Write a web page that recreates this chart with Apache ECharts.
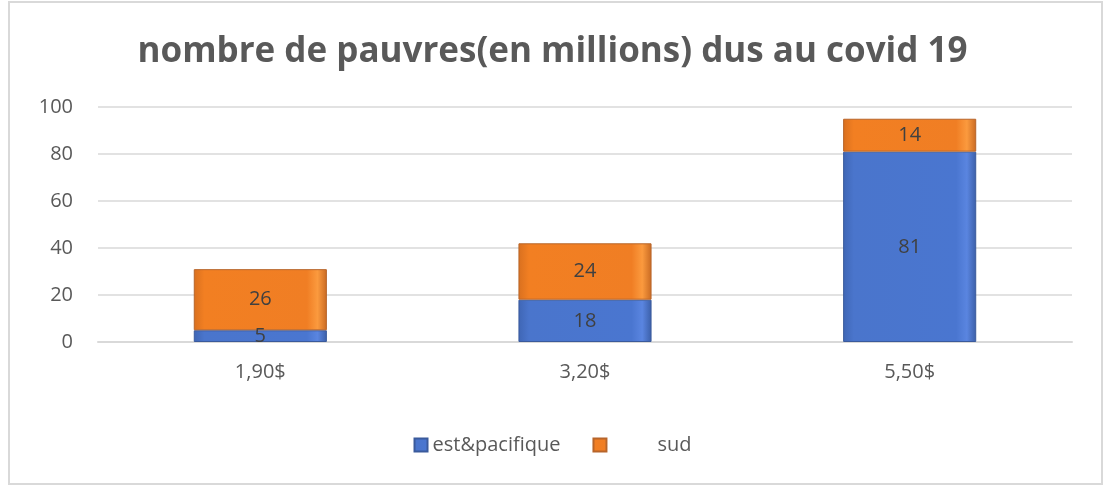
<!DOCTYPE html>
<html>
<head>
<meta charset="utf-8">
<script src="https://cdn.jsdelivr.net/npm/echarts@6/dist/echarts.min.js"></script>
<style>
  html, body { margin: 0; padding: 0; background: #fff; }
  #main { width: 1105px; height: 486px; }
</style>
</head>
<body>
<div id="main"></div>
<script>
var categories = ['1,90$', '3,20$', '5,50$'];
var estPacifique = [5, 18, 81];
var sud = [26, 24, 14];
var yTicks = { min: 0, max: 100, interval: 20 };

(function () {
  var myChart = echarts.init(document.getElementById('main'));

  var blue = new echarts.graphic.LinearGradient(0, 0, 1, 0, [
    { offset: 0, color: '#3f66b5' },
    { offset: 0.08, color: '#4a75cc' },
    { offset: 0.85, color: '#4a76d0' },
    { offset: 0.93, color: '#5a85e0' },
    { offset: 1, color: '#3b5fa8' }
  ]);
  var orange = new echarts.graphic.LinearGradient(0, 0, 1, 0, [
    { offset: 0, color: '#d9701f' },
    { offset: 0.08, color: '#f27f22' },
    { offset: 0.85, color: '#f07e24' },
    { offset: 0.93, color: '#fb9a3e' },
    { offset: 1, color: '#c96a22' }
  ]);

  var option = {
    backgroundColor: '#fff',
    textStyle: { fontFamily: 'Open Sans' },
    title: {
      text: 'nombre de pauvres(en millions) dus au covid 19',
      left: 'center',
      top: 30,
      textStyle: { fontSize: 35, fontWeight: 'bold', color: '#595959', fontFamily: 'Open Sans' }
    },
    graphic: [{
      type: 'rect',
      shape: { x: 9, y: 2, width: 1093, height: 482 },
      style: { fill: 'none', stroke: '#d9d9d9', lineWidth: 2 }
    }],
    legend: {
      bottom: 26,
      left: 'center',
      itemWidth: 13,
      itemHeight: 13,
      itemGap: 32,
      textStyle: { fontSize: 20, color: '#595959' },
      data: [
        { name: 'est&pacifique', icon: 'rect' },
        { name: 'sud', icon: 'rect', textStyle: { padding: [0, 0, 0, 46] } }
      ]
    },
    grid: {
      left: 98,
      right: 33,
      top: 107,
      bottom: 144,
      containLabel: false
    },
    xAxis: {
      type: 'category',
      data: categories,
      axisTick: { show: false },
      axisLine: { lineStyle: { color: '#d9d9d9', width: 2 } },
      axisLabel: { fontSize: 20, color: '#595959', margin: 20 }
    },
    yAxis: {
      type: 'value',
      min: yTicks.min,
      max: yTicks.max,
      interval: yTicks.interval,
      axisLine: { show: false },
      axisTick: { show: false },
      axisLabel: { fontSize: 20, color: '#595959', margin: 25 },
      splitLine: { lineStyle: { color: '#d9d9d9', width: 1.5 } }
    },
    series: [
      {
        name: 'est&pacifique',
        type: 'bar',
        stack: 'total',
        barWidth: '41%',
        data: estPacifique,
        itemStyle: { color: blue, borderColor: '#3a5a9c', borderWidth: 1 },
        label: { show: true, position: 'inside', fontSize: 20, color: '#404040' }
      },
      {
        name: 'sud',
        type: 'bar',
        stack: 'total',
        barWidth: '41%',
        data: sud,
        itemStyle: { color: orange, borderColor: '#b7652a', borderWidth: 1 },
        label: { show: true, position: 'inside', fontSize: 20, color: '#404040' }
      }
    ],
    color: ['#4472c4', '#ed7d31']
  };

  myChart.setOption(option);
})();
</script>
</body>
</html>
